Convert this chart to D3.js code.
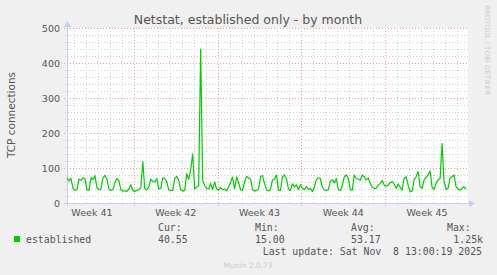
<!DOCTYPE html>
<html>
<head>
<meta charset="utf-8">
<script src="https://cdn.jsdelivr.net/npm/d3@7"></script>
<style>
  body { margin: 0; background: #f0f0f0; }
  svg { display: block; }
  text { font-family: "DejaVu Sans", sans-serif; fill: #555; }
  .mono { font-family: "DejaVu Sans Mono", monospace; }
</style>
</head>
<body>
<div id="chart"></div>
<script>
// 4 hour samples, first one at Tue 7 Oct 2025 10:00
var start = new Date(2025, 9, 7, 10);
var stepHours = 4;
var established = [
  72, 63, 70, 42, 36, 38, 68, 65, 72, 70, 38, 36, 72, 67, 78, 44, 38, 40, 72, 79,
  68, 40, 36, 38, 58, 70, 64, 38, 34, 35, 33, 40, 52, 36, 33, 36, 38, 44, 118, 40,
  38, 45, 68, 62, 60, 70, 40, 42, 72, 70, 60, 38, 35, 36, 70, 76, 65, 38, 34, 36,
  84, 68, 95, 140, 40, 46, 50, 440, 65, 50, 42, 40, 56, 38, 60, 40, 37, 44, 38, 40,
  35, 46, 60, 74, 40, 75, 58, 38, 36, 60, 76, 72, 68, 38, 34, 36, 40, 76, 78, 56,
  37, 35, 40, 66, 68, 80, 37, 36, 75, 80, 70, 40, 36, 55, 46, 52, 38, 52, 42, 38,
  47, 38, 42, 33, 46, 66, 72, 70, 45, 37, 36, 38, 62, 66, 58, 70, 38, 36, 50, 75,
  80, 70, 38, 37, 80, 70, 68, 65, 80, 75, 66, 71, 56, 45, 42, 42, 51, 56, 64, 51,
  48, 51, 58, 61, 54, 42, 54, 45, 37, 71, 75, 51, 32, 34, 66, 75, 90, 47, 42, 66,
  74, 80, 92, 45, 39, 56, 66, 70, 170, 61, 39, 42, 71, 75, 80, 47, 40, 37, 42, 47,
  40
];
var yTicks = [0, 100, 200, 300, 400, 500];
var legendHeads = ['Cur:', 'Min:', 'Avg:', 'Max:'];
var legendValues = ['40.55', '15.00', '53.17', '1.25k'];
var seriesName = 'established';

var W = 497, H = 275;
var plot = { left: 67, right: 468, top: 28, bottom: 203 };

var svg = d3.select('#chart').append('svg')
  .attr('width', W).attr('height', H);

var points = established.map(function(v, i) {
  return { t: d3.timeHour.offset(start, i * stepHours), v: v };
});
var end = d3.timeHour.offset(start, 804);

var x = d3.scaleTime().domain([start, end]).range([plot.left, plot.right]);
var y = d3.scaleLinear().domain([0, 500]).range([plot.bottom, plot.top]);

// canvas
svg.append('rect')
  .attr('x', plot.left).attr('y', plot.top)
  .attr('width', plot.right - plot.left).attr('height', plot.bottom - plot.top)
  .attr('fill', '#fff');

// minor grid
var grid = svg.append('g').attr('shape-rendering', 'crispEdges');
var days = d3.timeDay.range(d3.timeDay.ceil(start), end);
grid.selectAll('.vmin').data(days.filter(function(d) { return d.getDay() != 1; }))
  .enter().append('line')
  .attr('x1', function(d) { return Math.round(x(d)) + 0.5; })
  .attr('x2', function(d) { return Math.round(x(d)) + 0.5; })
  .attr('y1', plot.top).attr('y2', plot.bottom + 2)
  .attr('stroke', '#cfcfcf').attr('stroke-dasharray', '1,2');
var minorY = d3.range(20, 501, 20).filter(function(v) { return v % 100 != 0; });
grid.selectAll('.hmin').data(minorY).enter().append('line')
  .attr('x1', plot.left - 2).attr('x2', plot.right)
  .attr('y1', function(d) { return Math.round(y(d)) + 0.5; })
  .attr('y2', function(d) { return Math.round(y(d)) + 0.5; })
  .attr('stroke', '#cfcfcf').attr('stroke-dasharray', '1,2');

// major grid
var weeks = d3.timeMonday.range(d3.timeMonday.ceil(start), end);
grid.selectAll('.vmaj').data(weeks).enter().append('line')
  .attr('x1', function(d) { return Math.round(x(d)) + 0.5; })
  .attr('x2', function(d) { return Math.round(x(d)) + 0.5; })
  .attr('y1', plot.top).attr('y2', plot.bottom + 3)
  .attr('stroke', '#ec9f9f').attr('stroke-dasharray', '1,2');
grid.selectAll('.hmaj').data(yTicks.slice(1)).enter().append('line')
  .attr('x1', plot.left - 3).attr('x2', plot.right)
  .attr('y1', function(d) { return Math.round(y(d)) + 0.5; })
  .attr('y2', function(d) { return Math.round(y(d)) + 0.5; })
  .attr('stroke', '#ec9f9f').attr('stroke-dasharray', '1,2');

// y axis labels
var yAxis = d3.axisLeft(y).tickValues(yTicks).tickSize(0).tickPadding(7);
svg.append('g')
  .attr('transform', 'translate(' + plot.left + ',0)')
  .call(yAxis)
  .call(function(g) {
    g.select('.domain').remove();
    g.selectAll('text').attr('font-family', null).attr('font-size', null)
      .style('font-size', '9.5px').style('fill', '#555');
  });

// week labels
var weekLabels = d3.timeMonday.range(d3.timeMonday.floor(start), end);
svg.selectAll('.wk').data(weekLabels).enter().append('text')
  .attr('x', function(d) { return x(d3.timeHour.offset(d, 84)); })
  .attr('y', 216)
  .attr('text-anchor', 'middle')
  .style('font-size', '9.5px')
  .text(function(d) { return 'Week ' + d3.timeFormat('%V')(d); });

// axes with arrows
var axisColor = '#c5cdf3';
svg.append('line')
  .attr('x1', plot.left + 0.5).attr('x2', plot.left + 0.5)
  .attr('y1', plot.bottom + 3).attr('y2', plot.top - 4)
  .attr('stroke', axisColor);
svg.append('path')
  .attr('d', 'M' + (plot.left - 3) + ',' + (plot.top - 1) + 'L' + (plot.left + 0.5) + ',' + (plot.top - 7) + 'L' + (plot.left + 4) + ',' + (plot.top - 1) + 'Z')
  .attr('fill', axisColor);
svg.append('line')
  .attr('x1', plot.left - 3).attr('x2', plot.right + 2)
  .attr('y1', plot.bottom + 0.5).attr('y2', plot.bottom + 0.5)
  .attr('stroke', axisColor);
svg.append('path')
  .attr('d', 'M' + (plot.right + 1) + ',' + (plot.bottom - 3) + 'L' + (plot.right + 7) + ',' + (plot.bottom + 0.5) + 'L' + (plot.right + 1) + ',' + (plot.bottom + 4) + 'Z')
  .attr('fill', axisColor);

// data line
var line = d3.line()
  .x(function(d) { return x(d.t); })
  .y(function(d) { return y(Math.min(d.v, 500)); });
svg.append('path')
  .datum(points)
  .attr('d', line)
  .attr('fill', 'none')
  .attr('stroke', '#00cc00')
  .attr('stroke-width', 1.2)
  .attr('stroke-linejoin', 'round');

// titles
svg.append('text')
  .attr('x', 248).attr('y', 24)
  .attr('text-anchor', 'middle')
  .style('font-size', '12.5px')
  .text('Netstat, established only - by month');
svg.append('text')
  .attr('transform', 'translate(15,115) rotate(-90)')
  .attr('text-anchor', 'middle')
  .style('font-size', '10.5px')
  .text('TCP connections');
svg.append('text')
  .attr('transform', 'translate(485,5) rotate(90)')
  .style('font-size', '7px').style('fill', '#ccc')
  .text('RRDTOOL / TOBI OETIKER');

// legend
svg.append('rect')
  .attr('x', 14).attr('y', 236).attr('width', 6).attr('height', 6)
  .attr('fill', '#00cc00');
svg.append('text').attr('class', 'mono')
  .attr('x', 26).attr('y', 243)
  .style('font-size', '9.85px')
  .text(seriesName);
var colX = [158, 255, 351, 447];
legendHeads.forEach(function(h, i) {
  svg.append('text').attr('class', 'mono')
    .attr('x', colX[i]).attr('y', 231)
    .style('font-size', '9.85px')
    .text(h);
});
legendValues.forEach(function(v, i) {
  svg.append('text').attr('class', 'mono')
    .attr('x', i == 3 ? 483 : colX[i]).attr('y', 243)
    .attr('text-anchor', i == 3 ? 'end' : 'start')
    .style('font-size', '9.85px')
    .text(v);
});
svg.append('text').attr('class', 'mono')
  .attr('x', 482).attr('y', 255)
  .attr('text-anchor', 'end')
  .style('font-size', '9.85px')
  .style('white-space', 'pre')
  .attr('xml:space', 'preserve')
  .text('Last update: Sat Nov  8 13:00:19 2025');
svg.append('text')
  .attr('x', 248).attr('y', 268)
  .attr('text-anchor', 'middle')
  .style('font-size', '7.5px').style('fill', '#ccc')
  .text('Munin 2.0.73');
</script>
</body>
</html>
